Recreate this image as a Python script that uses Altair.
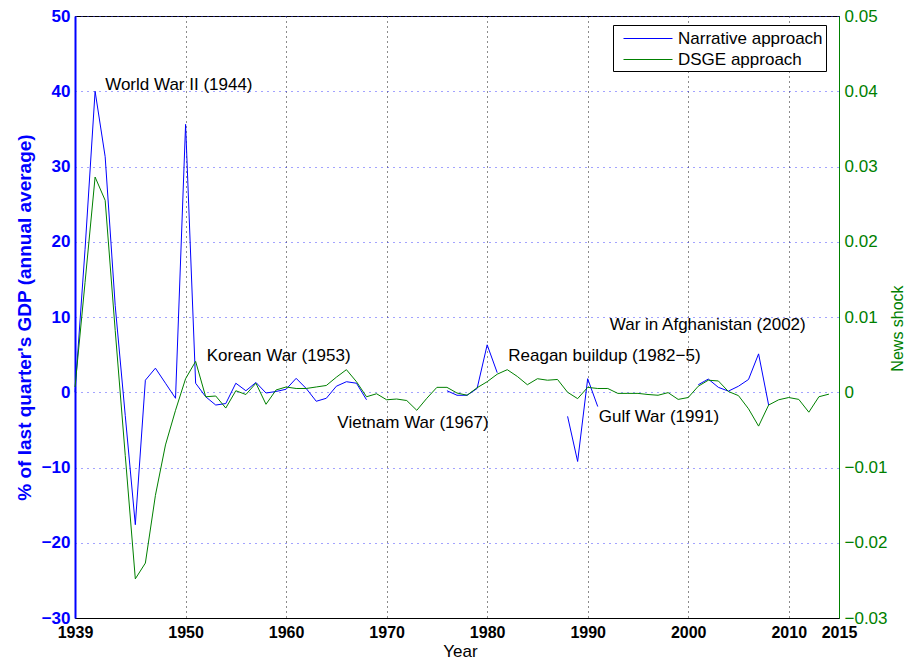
import altair as alt
import pandas as pd

years = list(range(1939, 2015))

# Narrative approach (% of last quarter's GDP, annual average); None = no data
narrative = [
    0.0, 19.0, 40.0, 31.3, 11.5, -3.1, -17.6, 1.6, 3.2, 1.2,      # 1939-1948
    -0.8, 35.6, 1.2, -0.6, -1.7, -1.5, 1.2, 0.2, 1.3, -0.1,       # 1949-1958
    0.1, 0.4, 1.85, 0.5, -1.2, -0.8, 0.8, 1.4, 1.2, -1.0,         # 1959-1968
    None, None, None, None, None, None, None, 0.2, -0.4, -0.4,    # 1969-1978
    0.5, 6.3, 2.6, None, None, None, None, -2.1, None, -3.2,      # 1979-1988
    -9.2, 1.8, -1.9, None, None, None, None, None, None, None,    # 1989-1998
    None, None, 1.0, 1.75, 0.65, 0.15, 0.8, 1.7, 5.1, -1.7,       # 1999-2008
    None, None, None, None, None, None,                            # 2009-2014
]

# DSGE approach (news shock)
dsge = [
    0.0007, 0.0146, 0.0286, 0.0255, 0.0082, -0.0084, -0.0248, -0.0227, -0.0137, -0.0070,   # 1939-1948
    -0.0024, 0.0018, 0.0041, -0.0006, -0.0005, -0.0021, 0.0002, -0.0003, 0.0012, -0.0016,  # 1949-1958
    0.0003, 0.0007, 0.0005, 0.0005, 0.0007, 0.0009, 0.0020, 0.0030, 0.0014, -0.0006,       # 1959-1968
    -0.0002, -0.0010, -0.0009, -0.0011, -0.0024, -0.0008, 0.00065, 0.00065, -0.0001, -0.0004,  # 1969-1978
    0.0006, 0.0014, 0.0024, 0.0030, 0.0021, 0.0010, 0.0018, 0.0016, 0.0017, 0.0000,       # 1979-1988
    -0.00085, 0.00065, 0.0005, 0.0005, -0.00015, -0.00015, -0.00015, -0.0003, -0.0004, -0.00005,  # 1989-1998
    -0.00095, -0.0007, 0.0008, 0.0016, 0.0015, 0.0001, -0.00045, -0.0022, -0.0045, -0.0017,  # 1999-2008
    -0.0010, -0.0007, -0.00095, -0.00265, -0.0006, -0.00025,                                 # 2009-2014
]

x_ticks = [1939, 1950, 1960, 1970, 1980, 1990, 2000, 2010, 2015]
left_ticks = [-30, -20, -10, 0, 10, 20, 30, 40, 50]
right_ticks = [-0.03, -0.02, -0.01, 0, 0.01, 0.02, 0.03, 0.04, 0.05]

series_names = ["Narrative approach", "DSGE approach"]

ann_text = ["World War II (1944)", "Korean War (1953)", "Vietnam War (1967)",
            "Reagan buildup (1982\u22125)", "Gulf War (1991)", "War in Afghanistan (2002)"]
ann_year = [1942.0, 1952.1, 1965.1, 1982.1, 1991.1, 1992.2]
ann_value = [40.2, 4.15, -4.8, 4.2, -3.9, 8.3]

df = pd.DataFrame({"Year": years, "Narrative": narrative, "DSGE": dsge})
ann = pd.DataFrame({"Year": ann_year, "Narrative": ann_value, "label": ann_text})

FONT = "Liberation Sans"
BLUE = "#0000ff"
GREEN = "#008000"

color_scale = alt.Scale(domain=series_names, range=[BLUE, GREEN])

x_axis = alt.Axis(values=x_ticks, format="d", title="Year", grid=True,
                  gridColor="#000000", gridDash=[1, 4], gridOpacity=0.9, gridWidth=1,
                  ticks=False, labelFontWeight="bold", labelFontSize=16, labelColor="black",
                  labelPadding=6, labelFlush=False, titleFontSize=17, titleFontWeight="normal",
                  titleColor="black", titleX=385, titleY=38, titleBaseline="alphabetic",
                  domainColor="black", domainWidth=1)
x_scale = alt.Scale(domain=[1939, 2015], nice=False, zero=False)

left_axis = alt.Axis(values=left_ticks, orient="left", format="d",
                     title="% of last quarter's GDP (annual average)",
                     grid=True, gridColor="#3333ff", gridDash=[1, 5], gridOpacity=0.9,
                     ticks=False, labelColor=BLUE, labelFontWeight="bold", labelFontSize=17,
                     labelPadding=5, labelFlush=False, titleColor=BLUE, titleFontSize=19,
                     titleFontWeight="bold", titleX=-51, titleY=301, titleBaseline="middle",
                     domainColor=BLUE, domainWidth=2)
left_scale = alt.Scale(domain=[-30, 50], nice=False, zero=False)

right_axis = alt.Axis(values=right_ticks, orient="right",
                      labelExpr="datum.value == 0 ? '0' : format(datum.value, '.2f')",
                      title="News shock", grid=False, ticks=False, labelColor=GREEN,
                      labelFontWeight="normal", labelFontSize=17, labelPadding=5,
                      labelFlush=False, titleColor=GREEN, titleFontSize=16,
                      titleFontWeight="normal", titleAngle=270, titleX=58, titleY=312,
                      titleBaseline="middle", domainColor=GREEN, domainWidth=1)
right_scale = alt.Scale(domain=[-0.03, 0.05], nice=False, zero=False)

legend = alt.Legend(orient="none", legendX=538, legendY=9, title=None,
                    symbolType="M-0.3,0H4.6", symbolSize=400, symbolStrokeWidth=1,
                    labelFontSize=17, labelFont=FONT, labelColor="black", labelOffset=41,
                    labelLimit=300, strokeColor="black", fillColor="white", padding=3,
                    rowPadding=2)

color_enc = alt.Color("series:N", scale=color_scale, legend=legend, sort=series_names)

blue = alt.Chart(df).transform_calculate(series="'" + series_names[0] + "'").mark_line(
    strokeWidth=1, invalid="break-paths-show-domains").encode(
    x=alt.X("Year:Q", scale=x_scale, axis=x_axis),
    y=alt.Y("Narrative:Q", scale=left_scale, axis=left_axis),
    color=color_enc,
)

texts = alt.Chart(ann).mark_text(align="left", baseline="alphabetic", fontSize=17,
                                 font=FONT, color="black").encode(
    x=alt.X("Year:Q", scale=x_scale, axis=x_axis),
    y=alt.Y("Narrative:Q", scale=left_scale, axis=left_axis),
    text="label:N",
)

green = alt.Chart(df).transform_calculate(series="'" + series_names[1] + "'").mark_line(
    strokeWidth=1).encode(
    x=alt.X("Year:Q", scale=x_scale, axis=x_axis),
    y=alt.Y("DSGE:Q", scale=right_scale, axis=right_axis),
    color=color_enc,
)

chart = alt.layer(alt.layer(blue, texts), green).resolve_scale(y="independent").properties(
    width=764, height=602,
    autosize=alt.AutoSizeParams(type="none"),
    padding={"left": 67, "top": 8, "right": 66, "bottom": 41},
).configure(font=FONT).configure_view(stroke="black", strokeWidth=1)

chart.save("out.html", embed_options={"renderer": "svg", "actions": False})
